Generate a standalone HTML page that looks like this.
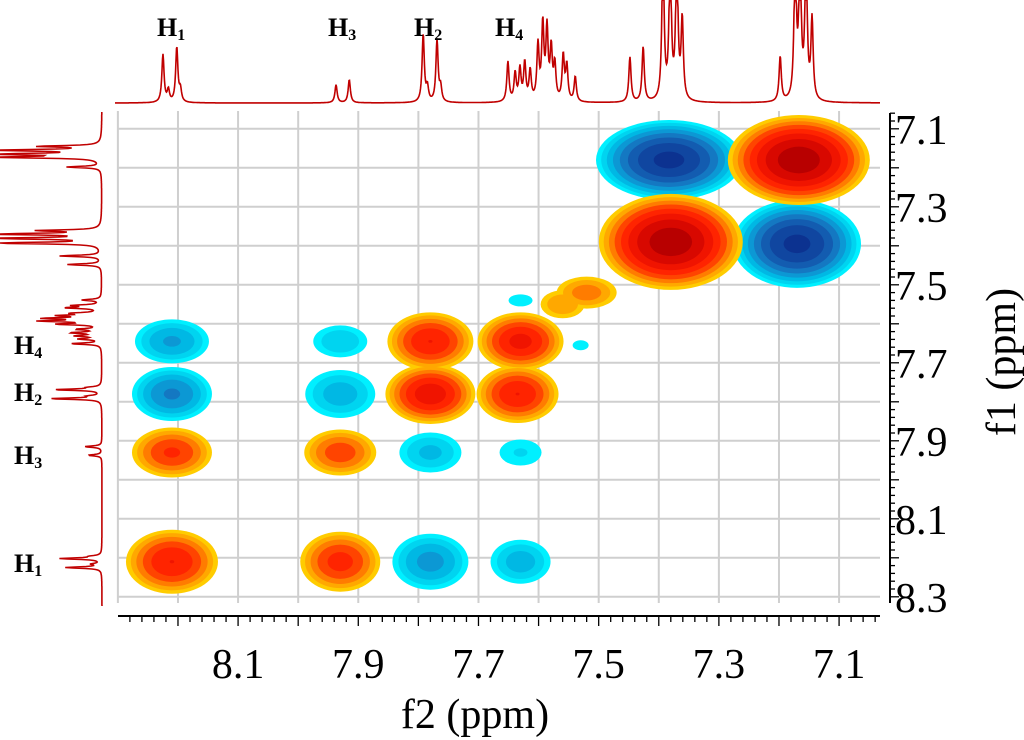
<!DOCTYPE html>
<html><head><meta charset="utf-8">
<style>
html,body{margin:0;padding:0;background:#fff;}
svg{display:block;font-family:"Liberation Serif",serif;}
</style></head>
<body>
<svg id="chart" width="1024" height="740" viewBox="0 0 1024 740" xmlns="http://www.w3.org/2000/svg">
<g id="grid"></g>
<g id="contours"></g>
<g id="spectra"></g>
<g id="axes"></g>
<g id="labels">
 <text x="157" y="36" font-size="26" font-weight="bold">H<tspan font-size="16" dy="4">1</tspan></text>
 <text x="328" y="36" font-size="26" font-weight="bold">H<tspan font-size="16" dy="4">3</tspan></text>
 <text x="414" y="36" font-size="26" font-weight="bold">H<tspan font-size="16" dy="4">2</tspan></text>
 <text x="495" y="36" font-size="26" font-weight="bold">H<tspan font-size="16" dy="4">4</tspan></text>
 <text x="14" y="354" font-size="26" font-weight="bold">H<tspan font-size="16" dy="4">4</tspan></text>
 <text x="14" y="401" font-size="26" font-weight="bold">H<tspan font-size="16" dy="4">2</tspan></text>
 <text x="14" y="464" font-size="26" font-weight="bold">H<tspan font-size="16" dy="4">3</tspan></text>
 <text x="14" y="572" font-size="26" font-weight="bold">H<tspan font-size="16" dy="4">1</tspan></text>
</g>
</svg>
<script>
// ---- data ----
const peakF2 = [7.167,7.38,7.383,7.17, 7.52,7.56, 7.63,7.78,7.78,7.635, 8.21,8.21,7.93,7.93,7.78,7.63, 8.21,7.93,8.21,7.93,7.78,7.63, 7.63,7.53,7.44];
const peakF1 = [7.18,7.39,7.18,7.395, 7.52,7.55, 7.645,7.78,7.645,7.78, 7.645,7.78,7.645,7.78,7.93,7.93, 7.93,7.93,8.21,8.21,8.21,8.21, 7.54,7.655,7.80];
const peakAmp = [10,10,-9,-9, 2.2,1.8, 5,5.5,4.5,4.5, -2.6,-3.5,-1.8,-2.2,-2.0,-1.4, 3.5,3.0,4.5,3.8,-2.8,-2.2, -1.1,-1.05,-1.0];
const peakRx = [71,72,73,64, 30,22, 43,45,43,41, 37,40,27,35,31,21, 40,36,46,40,38,30, 12,8,3];
const peakRy = [45,48,40,44, 16,14, 29,30,29,29, 22,27,16,24,20,13, 25,23,32,30,28,22, 6,5,3];
const xTicks = [8.1,7.9,7.7,7.5,7.3,7.1];
const yTicks = [7.1,7.3,7.5,7.7,7.9,8.1,8.3];
const specPpm = [8.225,8.202,8.216,8.196,7.937,7.915,7.792,7.769,7.785,7.763,7.651,7.639,7.631,7.623,7.614,7.601,7.593,7.586,7.579,7.573,7.559,7.553,7.539,7.448,7.426,7.393,7.381,7.370,7.361,7.198,7.173,7.165,7.155,7.145];
const specHeight = [48,55,12,12,18,23,68,62,14,14,40,28,32,38,30,55,75,70,50,35,45,35,25,45,55,150,150,150,80,45,150,150,150,80];

// ---- scales ----
const xS = p => 791 + (7.18 - p) * 601;
const yS = p => 160 + (p - 7.18) * 390;
const NS = "http://www.w3.org/2000/svg";
function mk(tag, attrs, parent){const e=document.createElementNS(NS,tag);for(const k in attrs)e.setAttribute(k,attrs[k]);parent.appendChild(e);return e;}

const PL=118, PR=880, PT=105, PB=603;
const grid=document.getElementById('grid');
for(let i=0;i<=14;i++){const p=7.0+i*0.1;const x=xS(p);if(x<PL-1||x>PR+1)continue;
 const l=mk('line',{x1:x,x2:x,y1:PT+6,y2:PB,stroke:'#cfcfcf','stroke-width':2},grid);
 
 }
for(let i=0;i<=14;i++){const p=7.0+i*0.1;const y=yS(p);if(y<PT||y>PB+1)continue;
 const l=mk('line',{x1:PL,x2:PR,y1:y,y2:y,stroke:'#cfcfcf','stroke-width':2},grid);
 
 }

const posCol=['#ffcc00','#ffa800','#ff7c00','#ff4400','#ff2400','#f01400','#d80800','#b80000','#a00000'];
const negCol=['#00f0ff','#00d4f0','#00b8e4','#0c98d4','#1478c2','#135cb0','#1046a0','#0c3290','#082278'];
const cont=document.getElementById('contours');
function drawSign(sign){
 const cols=sign>0?posCol:negCol;
 for(let k=0;k<cols.length;k++){
  const L=Math.pow(1.35,k);
  for(let i=0;i<peakAmp.length;i++){
   const A=peakAmp[i]*sign; if(A<=L)continue;
   const f=Math.sqrt(Math.log(A/L)/Math.log(A));
   const e=mk('ellipse',{cx:xS(peakF2[i]),cy:yS(peakF1[i]),rx:peakRx[i]*f,ry:peakRy[i]*f,fill:cols[k]},cont);
   
   
  }
 }
}
drawSign(-1); drawSign(1);

const sp=document.getElementById('spectra');
function specVal(p){let s=0;const w=0.0022;for(let i=0;i<specPpm.length;i++){const d=p-specPpm[i];s+=specHeight[i]*w*w/(d*d+w*w);}return s;}
let dTop='';for(let x=PL-3;x<=PR;x+=0.5){const p=7.18-(x-791)/601;const y=Math.max(0,103-specVal(p));dTop+=(dTop?'L':'M')+x.toFixed(1)+' '+y.toFixed(1);}
const t=mk('path',{d:dTop,fill:'none',stroke:'#c00000','stroke-width':1.6},sp);


let dLeft='';for(let y=112;y<=606;y+=0.5){const p=7.18+(y-160)/390;const x=Math.max(0,102-0.75*specVal(p));dLeft+=(dLeft?'L':'M')+x.toFixed(1)+' '+y.toFixed(1);}
const lf=mk('path',{d:dLeft,fill:'none',stroke:'#c00000','stroke-width':1.6},sp);



const ax=document.getElementById('axes');
const AY=616;
let a=mk('line',{x1:PL,x2:PR,y1:AY,y2:AY,stroke:'#000','stroke-width':2},ax);

for(let i=0;i<=70;i++){const p=7.0+i*0.02;const x=xS(p);if(x<PL||x>PR)continue;const maj=i%5===0;
 const tk=mk('line',{x1:x,x2:x,y1:AY,y2:AY+(maj?10:6),stroke:'#000','stroke-width':1.3},ax);
 }
xTicks.forEach(v=>{const tx=mk('text',{x:xS(v),y:678,'font-size':42,'text-anchor':'middle'},ax);tx.textContent=v.toFixed(1);
 });
const xt=mk('text',{x:475,y:728,'font-size':42,'text-anchor':'middle'},ax);xt.textContent='f2 (ppm)';


const AX=890;
a=mk('line',{x1:AX,x2:AX,y1:113,y2:PB,stroke:'#000','stroke-width':2},ax);

for(let i=0;i<=70;i++){const p=7.0+i*0.02;const y=yS(p);if(y<113||y>PB+1)continue;const maj=i%5===0;
 const tk=mk('line',{x1:AX,x2:AX+(maj?9:5),y1:y,y2:y,stroke:'#000','stroke-width':1.3},ax);
 }
yTicks.forEach(v=>{const tx=mk('text',{x:895,y:yS(v)+15,'font-size':42},ax);tx.textContent=v.toFixed(1);
 });
const yt=mk('text',{x:1015,y:362,'font-size':42,'text-anchor':'middle',transform:'rotate(-90 1015 362)'},ax);yt.textContent='f1 (ppm)';

</script>
</body></html>
